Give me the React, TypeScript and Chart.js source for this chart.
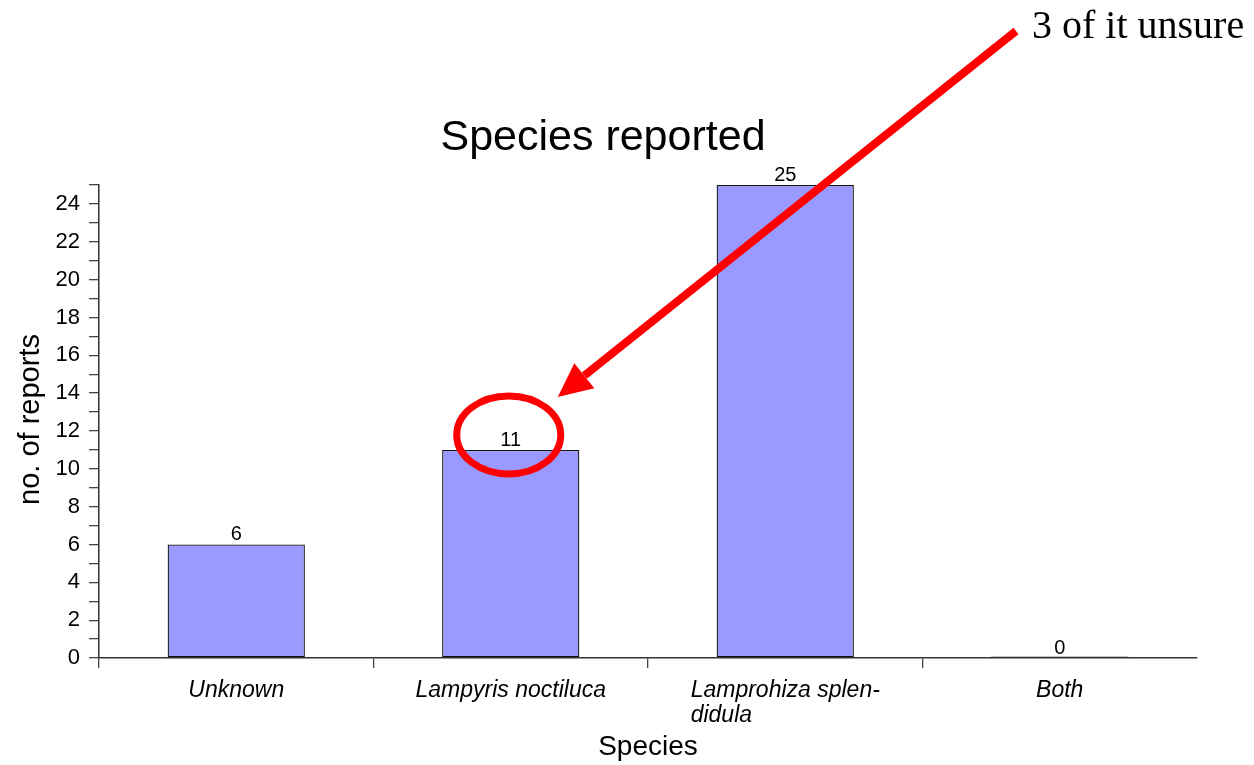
import React, { useEffect, useRef } from "react";
import { Chart, registerables } from "chart.js";

Chart.register(...registerables);

const categories: string[][] = [["Unknown"], ["Lampyris noctiluca"], ["Lamprohiza splen-", "didula"], ["Both"]];
const reportCounts: number[] = [6, 11, 25, 0];
const yMax = 25;
const chartTitle = "Species reported";
const xTitle = "Species";
const yTitle = "no. of reports";
const noteText = "3 of it unsure";
const highlightIndex = 1;

const SANS = "'Liberation Sans', Arial, sans-serif";
const SERIF = "'Liberation Serif', 'Times New Roman', serif";

const overlayPlugin = {
  id: "overlay",
  afterDraw(chart: any) {
    const { ctx, scales } = chart;
    const x = scales.x;
    const y = scales.y;
    ctx.save();
    // title
    ctx.fillStyle = "#000";
    ctx.font = `43px ${SANS}`;
    ctx.textAlign = "center";
    ctx.textBaseline = "alphabetic";
    ctx.fillText(chartTitle, 603, 150);

    // value labels
    ctx.font = `20px ${SANS}`;
    ctx.textBaseline = "alphabetic";
    const meta = chart.getDatasetMeta(0);
    meta.data.forEach((bar: any, i: number) => {
      const top = y.getPixelForValue(reportCounts[i]);
      ctx.fillText(String(reportCounts[i]), bar.x, top - 4);
    });

    // x category labels (italic, block left-aligned, centred)
    ctx.font = `italic 23px ${SANS}`;
    categories.forEach((lines, i) => {
      const cx = x.getPixelForValue(i);
      const widths = lines.map((l) => ctx.measureText(l).width);
      const w = Math.max(...widths);
      ctx.textAlign = "left";
      lines.forEach((l, j) => {
        ctx.fillText(l, cx - w / 2, 697 + j * 25);
      });
    });

    // axis titles
    ctx.textAlign = "center";
    ctx.font = `28px ${SANS}`;
    ctx.fillText(xTitle, (x.left + x.right) / 2, 755);
    ctx.save();
    ctx.translate(31, (y.top + y.bottom) / 2 - 2);
    ctx.rotate(-Math.PI / 2);
    ctx.textBaseline = "middle";
    ctx.font = `29px ${SANS}`;
    ctx.fillText(yTitle, 0, 0);
    ctx.restore();

    // annotation text
    ctx.font = `40px ${SERIF}`;
    ctx.textAlign = "left";
    ctx.textBaseline = "alphabetic";
    ctx.fillText(noteText, 1032, 38);

    // ellipse around highlighted value label
    const ex = x.getPixelForValue(highlightIndex) - 2;
    const ey = y.getPixelForValue(reportCounts[highlightIndex]) - 15;
    ctx.strokeStyle = "#ff0000";
    ctx.lineWidth = 7;
    ctx.beginPath();
    ctx.ellipse(ex, ey, 52, 39, 0, 0, Math.PI * 2);
    ctx.stroke();

    // arrow
    const sx = 1016, sy = 31;
    const tx = ex + 49, ty = ey - 38;
    const ang = Math.atan2(ty - sy, tx - sx);
    const headLen = 34, headW = 16;
    const bx = tx - headLen * Math.cos(ang);
    const by = ty - headLen * Math.sin(ang);
    ctx.lineWidth = 8;
    ctx.lineCap = "butt";
    ctx.beginPath();
    ctx.moveTo(sx, sy);
    ctx.lineTo(bx, by);
    ctx.stroke();
    ctx.fillStyle = "#ff0000";
    ctx.beginPath();
    ctx.moveTo(tx, ty);
    ctx.lineTo(bx + headW * Math.sin(ang), by - headW * Math.cos(ang));
    ctx.lineTo(bx - headW * Math.sin(ang), by + headW * Math.cos(ang));
    ctx.closePath();
    ctx.fill();
    ctx.restore();
  },
};

export default function App() {
  const ref = useRef<HTMLCanvasElement>(null);
  useEffect(() => {
    document.body.style.margin = "0";
    const chart = new Chart(ref.current!, {
      type: "bar",
      data: {
        labels: categories.map((c) => c.join(" ")),
        datasets: [
          {
            data: reportCounts,
            backgroundColor: "#9999ff",
            borderColor: "#111111",
            borderWidth: 1.3,
            borderSkipped: false,
            barPercentage: 0.5,
            categoryPercentage: 1,
            minBarLength: 1.5,
          },
        ],
      },
      options: {
        animation: false,
        responsive: false,
        maintainAspectRatio: false,
        layout: { padding: { top: 185, right: 57, bottom: 0, left: 0 } },
        plugins: { legend: { display: false }, title: { display: false }, tooltip: { enabled: false } },
        scales: {
          x: {
            offset: true,
            grid: {
              offset: true,
              drawOnChartArea: false,
              drawTicks: true,
              tickLength: 10,
              color: (c: any) => (c.type === "tick" ? "#444" : "rgba(0,0,0,0)"),
              lineWidth: 1.3,
            },
            border: { display: true, color: "#333", width: 1.5 },
            ticks: { display: true, color: "rgba(0,0,0,0)", font: { size: 21 } },
            afterFit(scale: any) {
              scale.height = 107;
            },
          },
          y: {
            min: 0,
            max: yMax,
            ticks: {
              stepSize: 1,
              autoSkip: false,
              padding: 9,
              color: "#000",
              font: { family: SANS, size: 22 },
              callback: (v: any) => (Number(v) % 2 === 0 ? String(v) : ""),
            },
            grid: { drawOnChartArea: false, drawTicks: true, tickLength: 10, color: "#444", lineWidth: 1.3 },
            border: { display: true, color: "#333", width: 1.5 },
            afterFit(scale: any) {
              scale.width = 99;
            },
          },
        },
      },
      plugins: [overlayPlugin],
    } as any);
    return () => chart.destroy();
  }, []);
  return (
    <div style={{ width: 1254, height: 765 }}>
      <canvas ref={ref} width={1254} height={765} style={{ display: "block" }} />
    </div>
  );
}
